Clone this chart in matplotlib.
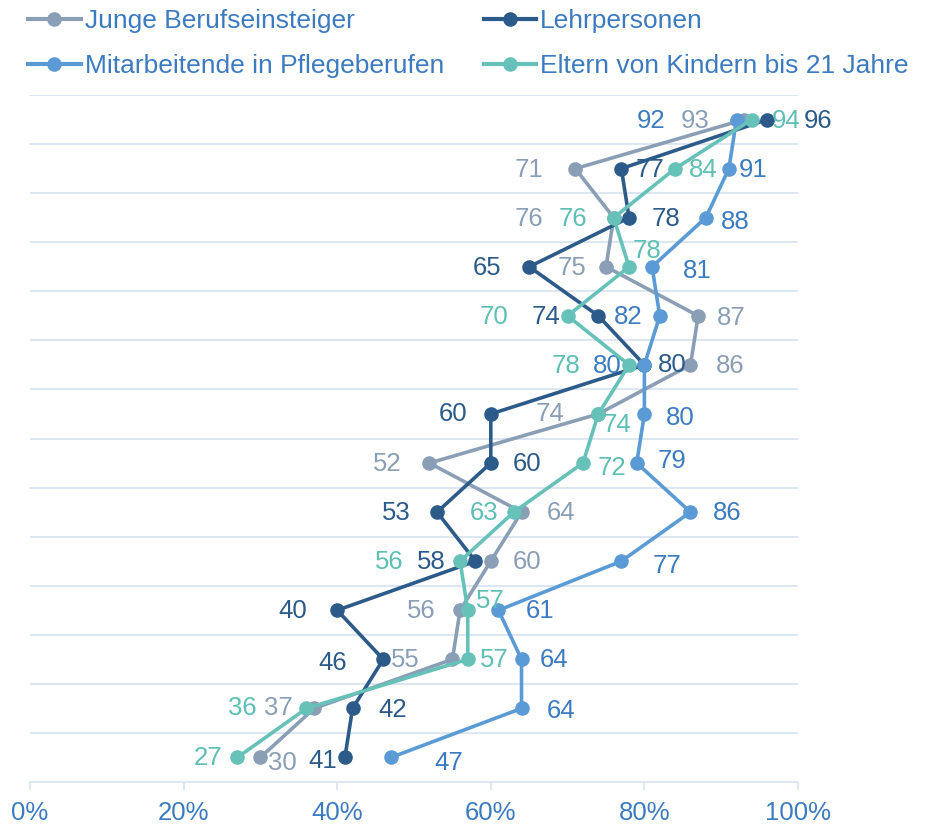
import numpy as np
import matplotlib
matplotlib.use("Agg")
from matplotlib import pyplot as plt
from matplotlib.lines import Line2D

plt.rcParams['font.family'] = ['Liberation Sans', 'DejaVu Sans']

# data (top row first)
series_names = ["Junge Berufseinsteiger", "Lehrpersonen",
                "Mitarbeitende in Pflegeberufen", "Eltern von Kindern bis 21 Jahre"]
junge = [93, 71, 76, 75, 87, 86, 74, 52, 64, 60, 56, 55, 37, 30]
lehr = [96, 77, 78, 65, 74, 80, 60, 60, 53, 58, 40, 46, 42, 41]
pflege = [92, 91, 88, 81, 82, 80, 80, 79, 86, 77, 61, 64, 64, 47]
eltern = [94, 84, 76, 78, 70, 78, 74, 72, 63, 56, 57, 57, 36, 27]
x_ticks = [0, 20, 40, 60, 80, 100]
x_ticklabels = ["0%", "20%", "40%", "60%", "80%", "100%"]

# label offsets in pixels (dx, dy with dy pointing down) - manual placement
off_junge = [(-49, 1), (-46, 1), (-85, 1), (-34, 1), (33, 2), (40, 1), (-48, 0),
             (-42, 1), (40, 1), (36, 1), (-39, 1), (-47, 1), (-36, 0), (22, 6)]
off_lehr = [(51, 1), (29, 1), (37, 1), (-42, 1), (-52, 1), (28, 0), (-38, 0),
            (36, 1), (-41, 1), (-44, 1), (-44, 1), (-51, 4), (40, 2), (-22, 4)]
off_pflege = [(-85, 1), (24, 1), (29, 4), (45, 4), (-32, 1), (-37, 1), (36, 4),
              (35, -2), (37, 1), (46, 5), (42, 1), (33, 1), (40, 3), (58, 6)]
off_eltern = [(34, 1), (28, 1), (-41, 1), (18, -16), (-74, 1), (-63, 1), (19, 11),
              (29, 5), (-30, 1), (-71, 1), (23, -9), (27, 1), (-64, 0), (-29, 1)]

c_junge = "#8A9FB6"
c_lehr = "#2C5B8A"
c_pflege = "#5B9BD5"
c_eltern = "#66C2B8"
c_text = "#3C7BBF"
c_grid = "#DDE7F3"

fig = plt.figure(figsize=(9.28, 8.25), dpi=100)
ax = fig.add_axes([30/928, 1 - 782/825, 768/928, 687/825])

y = np.arange(len(junge))
plot_specs = [
    (junge, c_junge, c_junge, off_junge),
    (lehr, c_lehr, c_lehr, off_lehr),
    (pflege, c_pflege, "#3C7BBF", off_pflege),
    (eltern, c_eltern, "#5EBFB4", off_eltern),
]

for i, (vals, col, lcol, offs) in enumerate(plot_specs):
    ax.plot(vals, y, '-o', color=col, lw=2.6, ms=10.5, mec=col, mew=0,
            zorder=3 + 2*i, solid_capstyle='round')
    for v, yy, (dx, dy) in zip(vals, y, offs):
        ax.annotate(str(v), (v, yy), xytext=(dx, -dy), textcoords='offset pixels',
                    ha='center', va='center', fontsize=18.5, color=lcol,
                    zorder=4 + 2*i)

ax.set_xlim(0, 100)
ax.set_ylim(len(junge) - 0.5, -0.5)

ax.set_yticks(np.arange(-0.5, len(junge) - 0.5, 1))
ax.tick_params(axis='y', length=0, labelleft=False)
ax.yaxis.grid(True, color=c_grid, lw=1.4, zorder=0)
ax.set_axisbelow(True)

ax.set_xticks(x_ticks)
ax.set_xticklabels(x_ticklabels)
ax.tick_params(axis='x', length=6, width=1.4, color=c_grid, labelcolor=c_text,
               labelsize=18.5, pad=8)

for s in ['left', 'right', 'top']:
    ax.spines[s].set_visible(False)
ax.spines['bottom'].set_color(c_grid)
ax.spines['bottom'].set_linewidth(1.4)

# legend: matplotlib fills columns first
order = [0, 2, 1, 3]
leg_handles = [Line2D([], [], color=plot_specs[k][1], lw=3, marker='o', ms=10.5, mew=0)
               for k in order]
fig.legend(leg_handles, [series_names[k] for k in order], ncol=2,
           loc='upper left', bbox_to_anchor=(28/928, 1 - 9/825), frameon=False,
           fontsize=19, labelcolor=c_text, handlelength=2.0, handletextpad=0.15,
           columnspacing=1.5, labelspacing=0.8, borderpad=0, borderaxespad=0)

fig.savefig("out.png", dpi=100)
